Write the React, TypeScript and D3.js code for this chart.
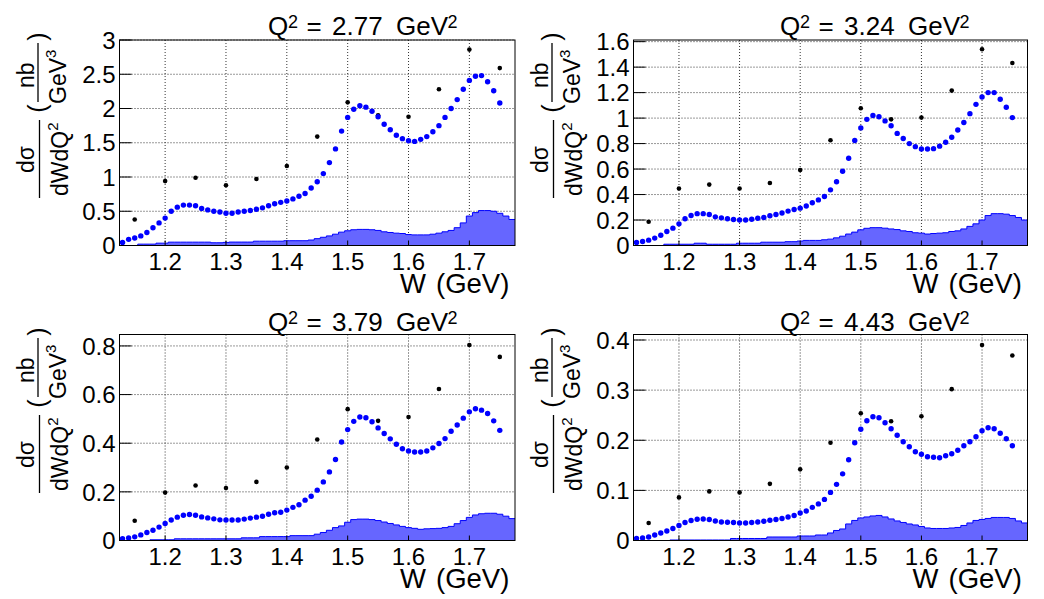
import React from "react";
import * as d3 from "d3";

// ---------- data ----------
const Q2_LABELS = ["2.77", "3.24", "3.79", "4.43"];

const X_TICKS = [1.2, 1.3, 1.4, 1.5, 1.6, 1.7];
const Y_TICKS_Q277 = [0, 0.5, 1, 1.5, 2, 2.5, 3];
const Y_TICKS_Q324 = [0, 0.2, 0.4, 0.6, 0.8, 1, 1.2, 1.4, 1.6];
const Y_TICKS_Q379 = [0, 0.2, 0.4, 0.6, 0.8];
const Y_TICKS_Q443 = [0, 0.1, 0.2, 0.3, 0.4];

const W_DATA = [1.15, 1.2, 1.25, 1.3, 1.35, 1.4, 1.45, 1.5, 1.55, 1.6, 1.65, 1.7, 1.75];
const DATA_Q277 = [0.38, 0.94, 0.99, 0.88, 0.97, 1.16, 1.59, 2.09, 1.9, 1.88, 2.28, 2.86, 2.59];
const DATA_Q324 = [0.186, 0.447, 0.478, 0.447, 0.49, 0.593, 0.826, 1.077, 0.99, 1.004, 1.216, 1.54, 1.433];
const DATA_Q379 = [0.081, 0.197, 0.226, 0.216, 0.241, 0.3, 0.415, 0.54, 0.492, 0.508, 0.623, 0.804, 0.755];
const DATA_Q443 = [0.035, 0.086, 0.098, 0.096, 0.113, 0.142, 0.195, 0.254, 0.238, 0.248, 0.302, 0.39, 0.369];

const W_MODEL = [
  1.13, 1.14, 1.15, 1.16, 1.17, 1.18, 1.19, 1.2, 1.21, 1.22, 1.23, 1.24, 1.25,
  1.26, 1.27, 1.28, 1.29, 1.3, 1.31, 1.32, 1.33, 1.34, 1.35, 1.36, 1.37, 1.38,
  1.39, 1.4, 1.41, 1.42, 1.43, 1.44, 1.45, 1.46, 1.47, 1.48, 1.49, 1.5, 1.51,
  1.52, 1.53, 1.54, 1.55, 1.56, 1.57, 1.58, 1.59, 1.6, 1.61, 1.62, 1.63, 1.64,
  1.65, 1.66, 1.67, 1.68, 1.69, 1.7, 1.71, 1.72, 1.73, 1.74, 1.75,
];
const MODEL_Q277 = [
  0.044, 0.09, 0.11, 0.14, 0.19, 0.26, 0.33, 0.4,
  0.5, 0.56, 0.59, 0.59, 0.58,
  0.54, 0.52, 0.5, 0.49, 0.47,
  0.47, 0.49, 0.5, 0.51, 0.53,
  0.55, 0.58, 0.61, 0.63, 0.65,
  0.68, 0.72, 0.76, 0.84, 0.93,
  1.05, 1.21, 1.41, 1.67, 1.87,
  1.99, 2.04, 2.02, 1.96, 1.88,
  1.77, 1.69, 1.61, 1.56, 1.53,
  1.52, 1.55, 1.59, 1.66, 1.75,
  1.87, 2.0, 2.13, 2.28, 2.41,
  2.47, 2.48, 2.39, 2.26, 2.08,
];
const MODEL_Q324 = [
  0.024, 0.031, 0.042, 0.058, 0.081, 0.11, 0.136, 0.17,
  0.21, 0.235, 0.25, 0.25, 0.243,
  0.225, 0.217, 0.21, 0.204, 0.2,
  0.2, 0.206, 0.214, 0.22, 0.233,
  0.243, 0.255, 0.27, 0.282, 0.293,
  0.31, 0.335, 0.358, 0.385, 0.437,
  0.5, 0.583, 0.685, 0.824, 0.923,
  0.99, 1.02, 1.01, 0.978, 0.94,
  0.88, 0.84, 0.8, 0.776, 0.758,
  0.758, 0.76, 0.78, 0.81, 0.85,
  0.907, 0.965, 1.035, 1.108, 1.166,
  1.2, 1.2, 1.148, 1.085, 1.004,
];
const MODEL_Q379 = [
  0.007, 0.01, 0.015, 0.023, 0.033, 0.042, 0.055, 0.07,
  0.084, 0.096, 0.104, 0.107, 0.104,
  0.097, 0.093, 0.089, 0.085, 0.084,
  0.084, 0.084, 0.088, 0.092, 0.096,
  0.1, 0.108, 0.114, 0.116, 0.125,
  0.136, 0.147, 0.166, 0.182, 0.207,
  0.241, 0.282, 0.333, 0.405, 0.456,
  0.49, 0.508, 0.505, 0.488, 0.463,
  0.44, 0.418, 0.396, 0.377, 0.368,
  0.364, 0.364, 0.368, 0.381, 0.399,
  0.419, 0.449, 0.475, 0.503, 0.529,
  0.542, 0.536, 0.522, 0.492, 0.453,
];
const MODEL_Q443 = [
  0.004, 0.005, 0.007, 0.011, 0.015, 0.019, 0.024, 0.03,
  0.036, 0.04, 0.0425, 0.043, 0.042,
  0.039, 0.037, 0.0365, 0.036, 0.035,
  0.035, 0.036, 0.037, 0.0385, 0.0405,
  0.042, 0.044, 0.047, 0.05, 0.055,
  0.059, 0.066, 0.073, 0.082, 0.096,
  0.112, 0.133, 0.161, 0.195, 0.222,
  0.239, 0.247, 0.245, 0.235, 0.223,
  0.21, 0.197, 0.187, 0.177, 0.172,
  0.167, 0.166, 0.165, 0.169, 0.173,
  0.18, 0.189, 0.197, 0.207, 0.219,
  0.225, 0.223, 0.214, 0.203, 0.189,
];

// histogram bin centres (bin width 0.01)
const W_BINS = [
  1.13, 1.14, 1.15, 1.16, 1.17, 1.18, 1.19, 1.2, 1.21, 1.22, 1.23, 1.24, 1.25,
  1.26, 1.27, 1.28, 1.29, 1.3, 1.31, 1.32, 1.33, 1.34, 1.35, 1.36, 1.37, 1.38,
  1.39, 1.4, 1.41, 1.42, 1.43, 1.44, 1.45, 1.46, 1.47, 1.48, 1.49, 1.5, 1.51,
  1.52, 1.53, 1.54, 1.55, 1.56, 1.57, 1.58, 1.59, 1.6, 1.61, 1.62, 1.63, 1.64,
  1.65, 1.66, 1.67, 1.68, 1.69, 1.7, 1.71, 1.72, 1.73, 1.74, 1.75, 1.76, 1.77,
];
const HIST_Q277 = [
  0, 0, 0, 0.02, 0.02, 0.02, 0.034, 0.034,
  0.049, 0.049, 0.049, 0.049, 0.049,
  0.049, 0.049, 0.04, 0.04, 0.045,
  0.05, 0.05, 0.05, 0.05, 0.063,
  0.063, 0.063, 0.063, 0.063, 0.07,
  0.07, 0.07, 0.07, 0.08, 0.1,
  0.12, 0.14, 0.165, 0.195, 0.215,
  0.23, 0.235, 0.235, 0.23, 0.22,
  0.2, 0.19, 0.18, 0.175, 0.16,
  0.155, 0.155, 0.155, 0.165, 0.18,
  0.2, 0.22, 0.26, 0.33, 0.43,
  0.48, 0.51, 0.51, 0.5, 0.47,
  0.43, 0.38,
];
const HIST_Q324 = [
  0, 0, 0, 0, 0, 0.01, 0.01, 0.01,
  0.01, 0.01, 0.018, 0.018, 0.01,
  0.01, 0.01, 0.01, 0.01, 0.018,
  0.018, 0.018, 0.018, 0.026, 0.026,
  0.026, 0.026, 0.03, 0.03, 0.035,
  0.04, 0.04, 0.04, 0.045, 0.05,
  0.06, 0.073, 0.09, 0.105, 0.123,
  0.135, 0.14, 0.14, 0.136, 0.13,
  0.125, 0.115, 0.11, 0.1, 0.097,
  0.09, 0.094, 0.097, 0.1, 0.11,
  0.115, 0.13, 0.15, 0.17, 0.2,
  0.235, 0.25, 0.25, 0.246, 0.235,
  0.22, 0.2,
];
const HIST_Q379 = [
  0, 0, 0, 0, 0, 0.003, 0.003, 0.003,
  0.003, 0.007, 0.007, 0.007, 0.007,
  0.007, 0.007, 0.007, 0.007, 0.007,
  0.007, 0.007, 0.011, 0.011, 0.011,
  0.016, 0.016, 0.016, 0.016, 0.016,
  0.02, 0.02, 0.02, 0.02, 0.026,
  0.033, 0.042, 0.053, 0.06, 0.075,
  0.086, 0.088, 0.088, 0.086, 0.082,
  0.076, 0.07, 0.064, 0.058, 0.053,
  0.05, 0.046, 0.048, 0.049, 0.05,
  0.053, 0.058, 0.069, 0.082, 0.095,
  0.105, 0.11, 0.112, 0.112, 0.108,
  0.1, 0.09,
];
const HIST_Q443 = [
  0, 0, 0, 0, 0, 0, 0.001, 0.001,
  0.001, 0.001, 0.001, 0.001, 0.001,
  0.001, 0.001, 0.001, 0.004, 0.004,
  0.004, 0.004, 0.004, 0.004, 0.007,
  0.007, 0.007, 0.007, 0.007, 0.009,
  0.009, 0.009, 0.011, 0.011, 0.015,
  0.02, 0.023, 0.033, 0.04, 0.045,
  0.047, 0.049, 0.05, 0.047, 0.043,
  0.039, 0.036, 0.033, 0.031, 0.028,
  0.025, 0.024, 0.024, 0.024, 0.025,
  0.026, 0.03, 0.035, 0.04, 0.042,
  0.044, 0.046, 0.046, 0.046, 0.044,
  0.039, 0.035,
];

// ---------- layout ----------
const FONT = "'Liberation Sans', Arial, Helvetica, sans-serif";
const X_DOMAIN: [number, number] = [1.125, 1.775];
const BIN_HALF = 0.005;

type Panel = {
  q2: string;
  left: number; right: number; top: number; bottom: number;
  ymax: number;
  yTicks: number[];
  data: number[]; model: number[]; hist: number[];
  titleX: number; titleY: number;
};

const PANELS: Panel[] = [
  { q2: Q2_LABELS[0], left: 119.5, right: 515, top: 40, bottom: 245.5, ymax: 3.0, yTicks: Y_TICKS_Q277,
    data: DATA_Q277, model: MODEL_Q277, hist: HIST_Q277, titleX: 268, titleY: 35 },
  { q2: Q2_LABELS[1], left: 633.5, right: 1027.5, top: 40, bottom: 245.5, ymax: 1.613, yTicks: Y_TICKS_Q324,
    data: DATA_Q324, model: MODEL_Q324, hist: HIST_Q324, titleX: 780, titleY: 35 },
  { q2: Q2_LABELS[2], left: 119.5, right: 515, top: 334.5, bottom: 540.5, ymax: 0.847, yTicks: Y_TICKS_Q379,
    data: DATA_Q379, model: MODEL_Q379, hist: HIST_Q379, titleX: 268, titleY: 330.5 },
  { q2: Q2_LABELS[3], left: 633.5, right: 1027.5, top: 334.5, bottom: 540.5, ymax: 0.411, yTicks: Y_TICKS_Q443,
    data: DATA_Q443, model: MODEL_Q443, hist: HIST_Q443, titleX: 780, titleY: 330.5 },
];

function fmt(v: number) {
  return String(+v.toFixed(2));
}

function YTitle({ x, y }: { x: number; y: number }) {
  return (
    <g transform={`translate(${x},${y}) rotate(-90)`} fontFamily={FONT} fontSize={23} fill="#000">
      <text x={25} y={-6}>dσ</text>
      <line x1={0} x2={78} y1={0} y2={0} stroke="#000" strokeWidth={1.3} />
      <text x={2} y={28}>
        dWdQ<tspan dy={-10} fontSize={15}>2</tspan>
      </text>
      <text x={89.5} y={6} textAnchor="middle" fontSize={25}>(</text>
      <text x={110} y={-6}>nb</text>
      <line x1={96} x2={155} y1={-1.5} y2={-1.5} stroke="#000" strokeWidth={1.3} />
      <text x={94} y={26}>
        GeV<tspan dy={-10} fontSize={15}>3</tspan>
      </text>
      <text x={161.5} y={6} textAnchor="middle" fontSize={25}>)</text>
    </g>
  );
}

function Title({ x, y, q2 }: { x: number; y: number; q2: string }) {
  return (
    <g fontFamily={FONT} fill="#000">
      <text x={x} y={y} fontSize={26}>Q</text>
      <text x={x + 20} y={y - 7} fontSize={18}>2</text>
      <text x={x + 38.5} y={y} fontSize={26}>=</text>
      <text x={x + 64} y={y} fontSize={26}>{q2}</text>
      <text x={x + 128} y={y} fontSize={26}>GeV</text>
      <text x={x + 179.5} y={y - 7} fontSize={18}>2</text>
    </g>
  );
}

function PanelView({ p, idx }: { p: Panel; idx: number }) {
  const x = d3.scaleLinear().domain(X_DOMAIN).range([p.left, p.right]);
  const y = d3.scaleLinear().domain([0, p.ymax]).range([p.bottom, p.top]);

  const histPts: [number, number][] = W_BINS.map((c, i) => [c - BIN_HALF, p.hist[i]] as [number, number]);
  histPts.push([W_BINS[W_BINS.length - 1] + BIN_HALF, p.hist[p.hist.length - 1]]);
  const area = d3.area<[number, number]>()
    .x((d) => x(d[0]))
    .y0(y(0))
    .y1((d) => y(d[1]))
    .curve(d3.curveStepAfter);
  const line = d3.line<[number, number]>()
    .x((d) => x(d[0]))
    .y((d) => y(d[1]))
    .curve(d3.curveStepAfter);

  const clipId = `clip${idx}`;
  const yTickLen = 12;
  const xTickLen = 5;

  return (
    <g>
      <defs>
        <clipPath id={clipId}>
          <rect x={p.left} y={p.top} width={p.right - p.left} height={p.bottom - p.top} />
        </clipPath>
      </defs>
      {/* grid */}
      <g stroke="#333" strokeWidth={1} strokeDasharray="1 2">
        {X_TICKS.map((t) => (
          <line key={"gx" + t} x1={x(t)} x2={x(t)} y1={p.top} y2={p.bottom} />
        ))}
        {p.yTicks.filter((t) => t > 0).map((t) => (
          <line key={"gy" + t} x1={p.left} x2={p.right} y1={y(t)} y2={y(t)} />
        ))}
      </g>
      <g clipPath={`url(#${clipId})`}>
        <path d={area(histPts) || ""} fill="#6666ff" stroke="none" />
        <path d={line(histPts) || ""} fill="none" stroke="#0000ff" strokeWidth={1} />
        {W_DATA.map((w, i) => (
          <circle key={"d" + i} cx={x(w)} cy={y(p.data[i])} r={2.3} fill="#000" />
        ))}
        {W_MODEL.map((w, i) => (
          <circle key={"m" + i} cx={x(w)} cy={y(p.model[i])} r={2.7} fill="#0000ff" />
        ))}
      </g>
      {/* frame */}
      <rect x={p.left} y={p.top} width={p.right - p.left} height={p.bottom - p.top} fill="none" stroke="#000" strokeWidth={1} />
      {/* ticks */}
      <g stroke="#000" strokeWidth={1}>
        {X_TICKS.map((t) => (
          <line key={"tx" + t} x1={x(t)} x2={x(t)} y1={p.bottom} y2={p.bottom - xTickLen} />
        ))}
        {p.yTicks.map((t) => (
          <line key={"ty" + t} x1={p.left} x2={p.left + yTickLen} y1={y(t)} y2={y(t)} />
        ))}
      </g>
      {/* tick labels */}
      <g fontFamily={FONT} fontSize={24} fill="#000">
        {X_TICKS.map((t) => (
          <text key={"lx" + t} x={x(t)} y={p.bottom + 24} textAnchor="middle">{fmt(t)}</text>
        ))}
        {p.yTicks.map((t) => (
          <text key={"ly" + t} x={p.left - 4} y={y(t) + 8.7} textAnchor="end">{fmt(t)}</text>
        ))}
      </g>
      {/* axis titles */}
      <g fontFamily={FONT} fontSize={27.5} fill="#000">
        <text x={p.right - 115} y={p.bottom + 47.5}>W</text>
        <text x={p.right - 79} y={p.bottom + 47.5}>(GeV)</text>
      </g>
      <YTitle x={p.left - 80} y={p.bottom - 47.5} />
      <Title x={p.titleX} y={p.titleY} q2={p.q2} />
    </g>
  );
}

export default function App() {
  return (
    <svg
      width={1044}
      height={599}
      viewBox="0 0 1044 599"
      style={{ position: "absolute", left: 0, top: 0, background: "#fff" }}
    >
      <rect x={0} y={0} width={1044} height={599} fill="#fff" />
      {PANELS.map((p, i) => (
        <PanelView key={i} p={p} idx={i} />
      ))}
    </svg>
  );
}
